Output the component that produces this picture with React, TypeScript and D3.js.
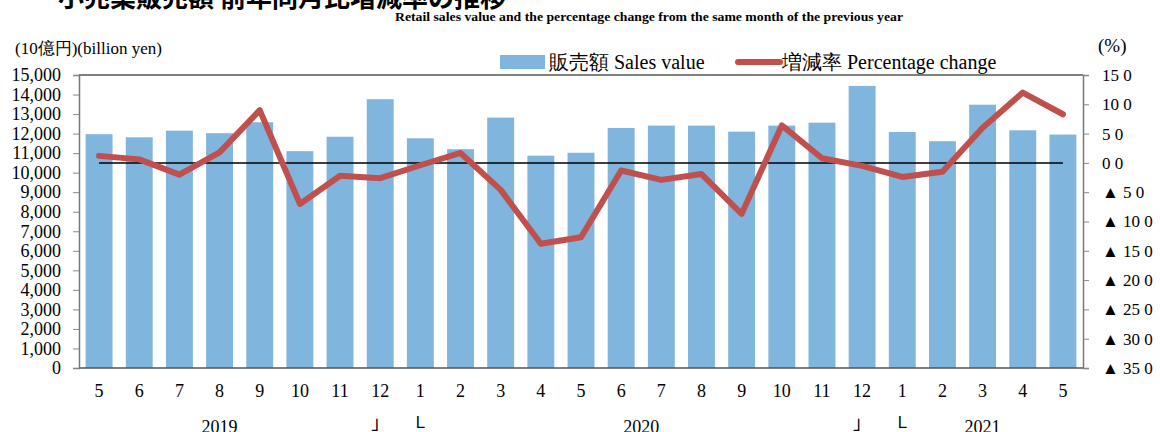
import React, { useEffect, useRef } from 'react';
import * as d3 from 'd3';

// months May 2019 - May 2021
const months = ["5", "6", "7", "8", "9", "10", "11", "12", "1", "2", "3", "4", "5", "6", "7", "8", "9", "10", "11", "12", "1", "2", "3", "4", "5"];
// sales value, billion yen
const sales = [11970, 11810, 12150, 12020, 12580, 11100, 11840, 13760, 11760, 11200, 12820, 10870, 11020, 12290, 12410, 12410, 12100, 12410, 12560, 14440, 12080, 11610, 13480, 12170, 11950];
// percentage change from same month of previous year
const pctChange = [1.2, 0.6, -2.0, 1.8, 9.0, -7.0, -2.2, -2.6, -0.4, 1.7, -4.6, -13.8, -12.7, -1.3, -2.9, -1.9, -8.7, 6.4, 0.8, -0.5, -2.4, -1.5, 6.0, 12.0, 8.3];

const leftTicks = [0, 1000, 2000, 3000, 4000, 5000, 6000, 7000, 8000, 9000, 10000, 11000, 12000, 13000, 14000, 15000];
const rightTicks = [15, 10, 5, 0, -5, -10, -15, -20, -25, -30, -35];
// year label positions (band index) and year-end markers
const years = [{ label: "2019", at: 3 }, { label: "2020", at: 13.5 }, { label: "2021", at: 22 }];
const yearBreaks = [7, 19];

const W = 1160;
const H = 432;
const serif = "'Liberation Serif', 'Times New Roman', serif";
const cjk = "'Noto Sans CJK JP', sans-serif";

const App: React.FC = () => {
  const svgRef = useRef<SVGSVGElement>(null);

  useEffect(() => {
    document.body.style.margin = "0";
    if (!svgRef.current) return;
    const svg = d3.select(svgRef.current);
    svg.selectAll("*").remove();

    const left = 79, right = 1083, top = 75, bottom = 368;

    const idx = months.map((_, i) => i);
    const x = d3.scaleBand<number>().domain(idx).range([left, right]).paddingInner(0.33).paddingOuter(0.165);
    const cx = (i: number) => (x(0) as number) + i * x.step() + x.bandwidth() / 2;
    const y = d3.scaleLinear().domain([0, 15000]).range([bottom, top]);
    const y2 = d3.scaleLinear().domain([-35, 15]).range([bottom, top]);

    // title (cut off at top) and subtitle
    svg.append("text")
      .attr("x", 58).attr("y", 7)
      .style("font-family", cjk).style("font-size", "26px").style("font-weight", "bold")
      .text("小売業販売額 前年同月比増減率の推移");

    svg.append("text")
      .attr("x", 395).attr("y", 21)
      .attr("textLength", 508).attr("lengthAdjust", "spacingAndGlyphs")
      .style("font-family", serif).style("font-size", "12px").style("font-weight", "bold")
      .text("Retail sales value and the percentage change from the same month of the previous year");

    svg.append("text")
      .attr("x", 15).attr("y", 54)
      .style("font-family", serif).style("font-size", "17px")
      .text("(10億円)(billion yen)");

    svg.append("text")
      .attr("x", 1098).attr("y", 52)
      .style("font-family", serif).style("font-size", "19px")
      .text("(%)");

    // bars
    svg.append("g").selectAll("rect").data(sales).join("rect")
      .attr("x", (_, i) => x(i) as number)
      .attr("y", d => y(d))
      .attr("width", x.bandwidth())
      .attr("height", d => bottom - y(d))
      .attr("fill", "#80b5dd");

    // frame
    svg.append("line").attr("x1", left).attr("x2", right).attr("y1", top).attr("y2", top)
      .attr("stroke", "#555").attr("stroke-width", 1.5);
    svg.append("line").attr("x1", left).attr("x2", right).attr("y1", bottom).attr("y2", bottom)
      .attr("stroke", "#555").attr("stroke-width", 1.5);

    // left axis
    const gl = svg.append("g").attr("transform", `translate(${left},0)`)
      .call(d3.axisLeft(y).tickValues(leftTicks).tickSize(6).tickFormat(d3.format(",")));
    gl.select(".domain").attr("stroke", "#777").attr("stroke-width", 1.5);
    gl.selectAll(".tick line").attr("stroke", "#888");
    gl.selectAll(".tick text")
      .attr("x", -18)
      .style("font-family", serif).style("font-size", "18px").attr("fill", "#000");

    // right axis
    const gr = svg.append("g").attr("transform", `translate(${right},0)`)
      .call(d3.axisRight(y2).tickValues(rightTicks).tickSize(6)
        .tickFormat(d => {
          const v = d as number;
          return `${v < 0 ? "▲ " : ""}${Math.abs(v)} 0`;
        }));
    gr.select(".domain").attr("stroke", "#777").attr("stroke-width", 1.5);
    gr.selectAll(".tick line").attr("stroke", "#888");
    gr.selectAll(".tick text")
      .attr("x", 19)
      .style("font-family", serif).style("font-size", "17px").attr("fill", "#000");

    // zero line
    svg.append("line")
      .attr("x1", cx(0)).attr("x2", cx(months.length - 1))
      .attr("y1", y2(0)).attr("y2", y2(0))
      .attr("stroke", "#000").attr("stroke-width", 1.5);

    // percentage change line
    const line = d3.line<number>().x((_, i) => cx(i)).y(d => y2(d));
    svg.append("path").datum(pctChange)
      .attr("d", line)
      .attr("fill", "none")
      .attr("stroke", "#c0504d")
      .attr("stroke-width", 6)
      .attr("stroke-linejoin", "round")
      .attr("stroke-linecap", "round");

    // month labels
    svg.append("g").selectAll("text").data(months).join("text")
      .attr("x", (_, i) => cx(i)).attr("y", 397)
      .attr("text-anchor", "middle")
      .style("font-family", serif).style("font-size", "18px")
      .text(d => d);

    // years
    svg.append("g").selectAll("text").data(years).join("text")
      .attr("x", d => cx(d.at)).attr("y", 433)
      .attr("text-anchor", "middle")
      .style("font-family", serif).style("font-size", "18px")
      .text(d => d.label);

    // year-end markers
    const marks = svg.append("g");
    yearBreaks.forEach(b => {
      marks.append("text").attr("x", cx(b)).attr("y", 429).attr("text-anchor", "middle")
        .style("font-family", cjk).style("font-size", "18px").text("」");
      marks.append("text").attr("x", cx(b + 1)).attr("y", 428).attr("text-anchor", "middle")
        .style("font-family", cjk).style("font-size", "16px").text("Ｌ");
    });

    // legend
    const lg = svg.append("g");
    lg.append("rect").attr("x", 500).attr("y", 55).attr("width", 45).attr("height", 14).attr("fill", "#80b5dd");
    lg.append("text").attr("x", 549).attr("y", 69)
      .style("font-family", serif).style("font-size", "20px")
      .text("販売額 Sales value");
    lg.append("line").attr("x1", 738).attr("x2", 780).attr("y1", 62).attr("y2", 62)
      .attr("stroke", "#c0504d").attr("stroke-width", 6).attr("stroke-linecap", "round");
    lg.append("text").attr("x", 782).attr("y", 69)
      .style("font-family", serif).style("font-size", "20px")
      .text("増減率 Percentage change");
  }, []);

  return <svg ref={svgRef} width={W} height={H} style={{ display: "block", background: "#fff" }} />;
};

export default App;
